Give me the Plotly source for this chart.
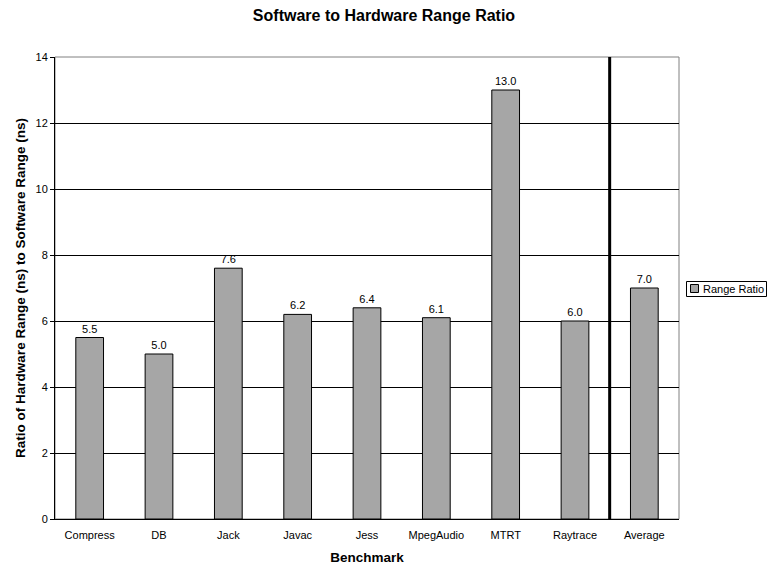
import plotly.graph_objects as go

# Benchmarks and their software-to-hardware range ratios
benchmarks = ["Compress", "DB", "Jack", "Javac", "Jess", "MpegAudio", "MTRT", "Raytrace"]
ratios = [5.5, 5.0, 7.6, 6.2, 6.4, 6.1, 13.0, 6.0]
average_label = "Average"
average_ratio = 7.0

categories = benchmarks + [average_label]
values = ratios + [average_ratio]
y_ticks = [0, 2, 4, 6, 8, 10, 12, 14]
series_name = "Range Ratio"

FONT = "Arial, Liberation Sans, sans-serif"
BAR_FILL = "#a6a6a6"

W, H = 768, 565
M_L, M_R, M_T, M_B = 55, 89, 57, 46
PW, PH = W - M_L - M_R, H - M_T - M_B


def px_x(px):
    """Pixel column -> paper x."""
    return (px - M_L) / PW


def px_y(py):
    """Pixel row -> paper y."""
    return (H - M_B - py) / PH


fig = go.Figure()
fig.add_trace(go.Bar(
    x=categories,
    y=values,
    name=series_name,
    marker=dict(color=BAR_FILL, line=dict(color="#000000", width=1)),
    width=0.4,
    text=[f"{v:.1f}" for v in values],
    textposition="outside",
    textfont=dict(family=FONT, size=11, color="#000000"),
    cliponaxis=False,
    showlegend=False,
))

# Plot-area frame (top/right in grey)
fig.add_shape(type="rect", xref="paper", yref="paper", x0=0, x1=1, y0=0, y1=1,
              line=dict(color="#808080", width=1), layer="below")

# Heavy divider between the individual benchmarks and the average
divider = len(benchmarks) - 0.5
fig.add_shape(type="line", xref="x", yref="paper", x0=divider, x1=divider, y0=0, y1=1,
              line=dict(color="#000000", width=3))

# Legend box drawn to the right of the plot area
fig.add_shape(type="rect", xref="paper", yref="paper",
              x0=px_x(686.5), x1=px_x(766.5), y0=px_y(296.5), y1=px_y(281.5),
              line=dict(color="#000000", width=1), fillcolor="white")
fig.add_shape(type="rect", xref="paper", yref="paper",
              x0=px_x(690.5), x1=px_x(698.5), y0=px_y(292.5), y1=px_y(284.5),
              line=dict(color="#000000", width=1), fillcolor=BAR_FILL)
fig.add_annotation(xref="paper", yref="paper", x=px_x(700.5), y=px_y(289),
                   xanchor="left", yanchor="middle", showarrow=False,
                   text=series_name, font=dict(family=FONT, size=11, color="#000000"))

fig.update_layout(
    width=W, height=H,
    margin=dict(l=M_L, r=M_R, t=M_T, b=M_B),
    paper_bgcolor="white", plot_bgcolor="white",
    font=dict(family=FONT, size=11, color="#000000"),
    title=dict(text="<b>Software to Hardware Range Ratio</b>", x=0.5, xanchor="center",
               y=1 - 15 / H, yanchor="middle", yref="container",
               font=dict(family=FONT, size=16, color="#000000")),
    showlegend=False,
    xaxis=dict(
        type="category",
        range=[-0.5, len(categories) - 0.5],
        automargin=False,
        showline=True, linecolor="#000000", linewidth=1,
        showgrid=False, ticks="",
        ticklabelstandoff=6,
        tickfont=dict(family=FONT, size=11),
        title=dict(text="<b>Benchmark</b>", font=dict(family=FONT, size=13.5), standoff=12),
    ),
    yaxis=dict(
        range=[0, 14],
        tickvals=y_ticks,
        automargin=False,
        showline=True, linecolor="#000000", linewidth=1,
        showgrid=True, gridcolor="#000000", gridwidth=1,
        zeroline=False,
        ticks="outside", ticklen=4, tickcolor="#000000",
        tickfont=dict(family=FONT, size=11),
        title=dict(text="<b>Ratio of Hardware Range (ns) to Software Range (ns)</b>",
                   font=dict(family=FONT, size=13.5), standoff=6),
    ),
)

fig.write_html("out.html")
